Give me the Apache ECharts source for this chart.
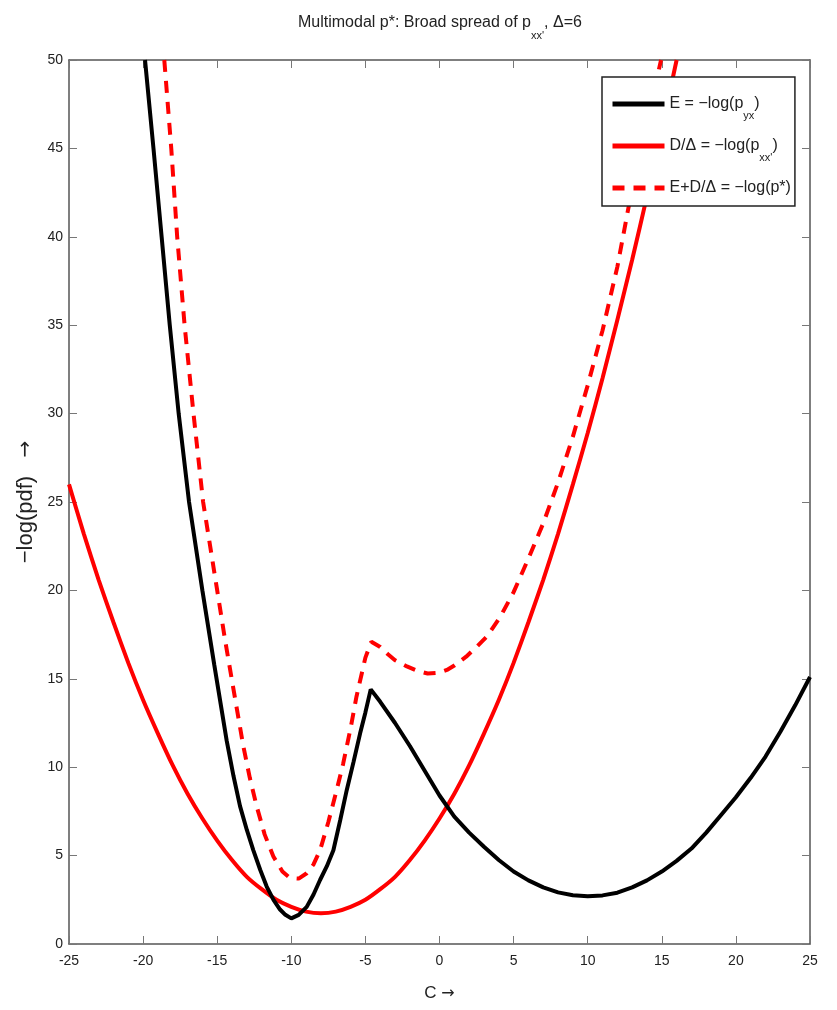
<!DOCTYPE html>
<html>
<head>
<meta charset="utf-8">
<script src="https://cdn.jsdelivr.net/npm/echarts@6/dist/echarts.min.js"></script>
<style>
  html, body { margin: 0; padding: 0; background: #fff; }
  #main { width: 837px; height: 1010px; }
</style>
</head>
<body>
<div id="main"></div>
<script>
const chart = echarts.init(document.getElementById('main'));

// E = -log(p_yx)
const eX = [-19.87, -19.3, -18.75, -18.2, -17.6, -16.9, -16.0, -15.2, -14.36, -13.9, -13.46, -13.0, -12.56, -12.1, -11.66, -11.2, -10.76, -10.4, -10.0,
  -9.5, -8.96, -8.5, -8.06, -7.6, -7.16, -6.7, -6.26, -5.8, -5.36, -5.0, -4.64,
  -4.0, -3.0, -2.0, -1.0, 0, 1, 2, 3, 4, 5, 6, 7, 8, 9, 10, 11, 12, 13, 14, 15, 16, 17, 18, 19, 20, 21, 22, 23, 24, 25];
const eY = [50, 45, 40, 35, 30, 25, 20, 15.8, 11.5, 9.5, 7.8, 6.45, 5.3, 4.2, 3.25, 2.5, 1.95, 1.65, 1.45,
  1.65, 2.1, 2.8, 3.62, 4.4, 5.3, 7.0, 8.7, 10.3, 11.9, 13.1, 14.4,
  13.7, 12.5, 11.2, 9.8, 8.4, 7.2, 6.3, 5.5, 4.75, 4.1, 3.6, 3.2, 2.92, 2.76, 2.7, 2.75, 2.9, 3.2, 3.6, 4.1, 4.7, 5.4, 6.3, 7.3, 8.3, 9.4, 10.6, 12.0, 13.5, 15.1];

// D/Δ = -log(p_xx')
const dX = [-25, -24, -23, -22, -21, -20, -19, -18, -17, -16, -15, -14, -13, -12, -11, -10, -9, -8, -7, -6, -5, -4, -3, -2, -1,
  0, 1, 2, 3, 4, 5, 6, 7, 8, 9, 10, 11, 12, 13, 14, 15, 16];
const dY = [26.0, 23.2, 20.6, 18.2, 15.9, 13.8, 11.9, 10.1, 8.5, 7.1, 5.85, 4.75, 3.8, 3.1, 2.5, 2.1, 1.83, 1.74, 1.83, 2.1, 2.5, 3.1, 3.8, 4.75, 5.85,
  7.1, 8.5, 10.1, 11.9, 13.8, 15.9, 18.2, 20.6, 23.2, 26.0, 28.9, 32.0, 35.3, 38.7, 42.3, 46.1, 50];

// E+D/Δ = -log(p*)
const sX = [-18.57, -18.1, -17.7, -17.2, -16.6, -15.95, -15.0, -14.45, -13.9, -13.24, -12.8, -12.34, -11.8, -11.21, -10.6, -10.09, -9.5, -8.96,
  -8.5, -8.06, -7.5, -6.94, -6.5, -6.0, -5.6, -5.0, -4.6, -4.0, -3.5, -3.0, -2.2, -1.5, -0.8, 0, 0.5, 1.0, 1.8, 2.5, 3.2, 4.1,
  5, 6, 7, 8, 9, 10, 11, 12, 12.74, 13.5, 14.3, 14.95];
const sY = [50, 45, 40, 35, 30, 25, 20, 17.1, 14.4, 11.2, 9.4, 7.8, 6.2, 4.95, 4.1, 3.73, 3.7, 4.0,
  4.5, 5.3, 6.9, 8.7, 10.2, 12.2, 14.0, 16.2, 17.1, 16.8, 16.4, 16.05, 15.7, 15.45, 15.3, 15.35, 15.5, 15.75, 16.25, 16.8, 17.4, 18.5,
  19.9, 21.8, 23.8, 26.1, 28.7, 31.6, 34.7, 38.3, 41.6, 44.3, 47.6, 50];

const xTicks = [-25, 25, 5];
const yTicks = [0, 50, 5];

const zip = (xs, ys) => xs.map((x, i) => [x, ys[i]]);

const FONT = "'Liberation Sans', Arial, sans-serif";
const ink = '#222';

const legendText = {
  'E': '{t|E = \u2212log(p}{s|yx}{t|)}',
  'D': '{t|D/\u0394 = \u2212log(p}{s|xx\'}{t|)}',
  'S': '{t|E+D/\u0394 = \u2212log(p*)}'
};

const axisBase = {
  type: 'value',
  splitLine: { show: false },
  axisLine: { show: true, onZero: false, lineStyle: { color: '#555', width: 1.5 } },
  axisTick: { show: true, inside: true, length: 8, lineStyle: { color: '#777', width: 1 } }
};

const option = {
  animation: false,
  backgroundColor: '#fff',
  title: {
    text: '{t|Multimodal p*: Broad spread of p}{s|xx\'}{t|, \u0394=6}',
    left: 293,
    top: 10,
    textStyle: {
      rich: {
        t: { fontFamily: FONT, fontSize: 16, fontWeight: 'normal', color: ink },
        s: { fontFamily: FONT, fontSize: 11, fontWeight: 'normal', color: ink, verticalAlign: 'bottom', padding: [0, 0, -10, 0] }
      }
    }
  },
  legend: {
    orient: 'vertical',
    left: 602,
    top: 77,
    padding: [19, 4, 10, 8],
    itemWidth: 52,
    itemHeight: 14,
    itemGap: 17,
    backgroundColor: '#fff',
    borderColor: '#222',
    borderWidth: 1.5,
    borderRadius: 0,
    data: ['E', 'D', 'S'],
    itemStyle: { opacity: 0 },
    lineStyle: { width: 5 },
    formatter: (n) => legendText[n],
    textStyle: {
      rich: {
        t: { fontFamily: FONT, fontSize: 16, color: ink },
        s: { fontFamily: FONT, fontSize: 11, color: ink, verticalAlign: 'bottom', padding: [0, 0, -9, 0] }
      }
    }
  },
  grid: { left: 69, right: 27, top: 60, bottom: 66 },
  xAxis: [
    Object.assign({}, axisBase, {
      position: 'bottom',
      min: xTicks[0], max: xTicks[1], interval: xTicks[2],
      name: '{t|C }{a|\u2192}',
      nameLocation: 'middle',
      nameGap: 41,
      nameTextStyle: {
        rich: {
          t: { fontFamily: FONT, fontSize: 17, color: ink },
          a: { fontFamily: 'DejaVu Sans', fontSize: 16, color: ink }
        }
      },
      axisLabel: { fontFamily: FONT, fontSize: 14, color: ink, margin: 10 }
    }),
    Object.assign({}, axisBase, {
      position: 'top',
      min: xTicks[0], max: xTicks[1], interval: xTicks[2],
      axisLabel: { show: false }
    })
  ],
  yAxis: [
    Object.assign({}, axisBase, {
      position: 'left',
      min: yTicks[0], max: yTicks[1], interval: yTicks[2],
      name: '{t|\u2212log(pdf)   }{a|\u2192}',
      nameLocation: 'middle',
      nameRotate: 90,
      nameGap: 32,
      nameTextStyle: {
        rich: {
          t: { fontFamily: FONT, fontSize: 22, color: ink },
          a: { fontFamily: 'DejaVu Sans', fontSize: 20, color: ink }
        }
      },
      axisLabel: { fontFamily: FONT, fontSize: 14, color: ink, margin: 6 }
    }),
    Object.assign({}, axisBase, {
      position: 'right',
      min: yTicks[0], max: yTicks[1], interval: yTicks[2],
      axisLabel: { show: false }
    })
  ],
  series: [
    {
      name: 'E', type: 'line', symbol: 'none', clip: true,
      data: zip(eX, eY),
      lineStyle: { color: '#000', width: 4 },
      itemStyle: { color: '#000' },
      z: 3
    },
    {
      name: 'D', type: 'line', symbol: 'none', clip: true, smooth: 0.2,
      data: zip(dX, dY),
      lineStyle: { color: '#ff0000', width: 4 },
      itemStyle: { color: '#ff0000' },
      z: 2
    },
    {
      name: 'S', type: 'line', symbol: 'none', clip: true,
      data: zip(sX, sY),
      lineStyle: { color: '#ff0000', width: 4, type: [12, 9] },
      itemStyle: { color: '#ff0000' },
      z: 2
    }
  ]
};

chart.setOption(option);
</script>
</body>
</html>
